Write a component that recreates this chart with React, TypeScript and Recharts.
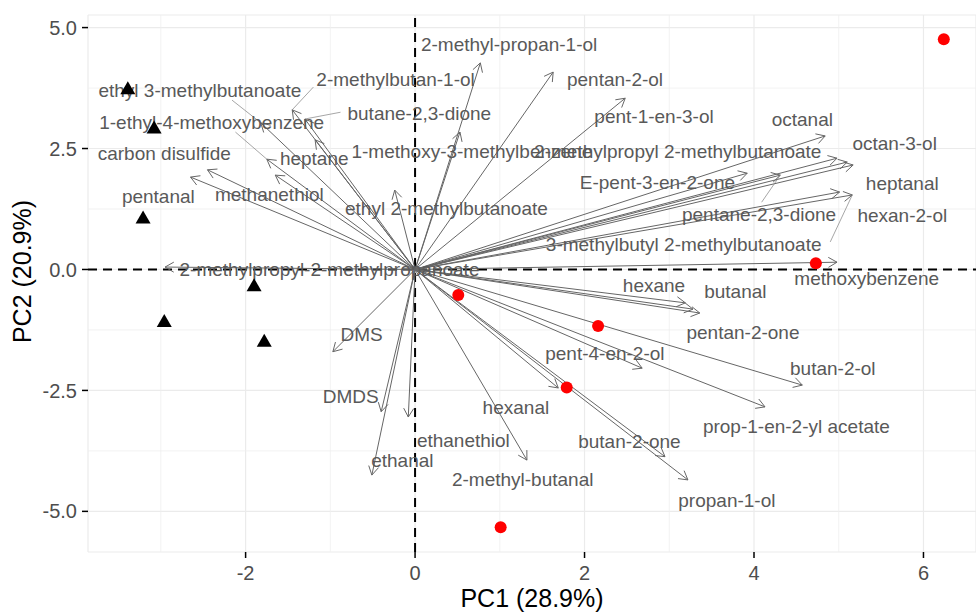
import React from "react";
import { ScatterChart, Scatter, XAxis, YAxis, CartesianGrid, ReferenceLine } from "recharts";

// variable loadings (arrow tips) and where their text labels sit
const variables = [
  "ethyl 3-methylbutanoate", "2-methylbutan-1-ol", "butane-2,3-dione", "1-ethyl-4-methoxybenzene",
  "carbon disulfide", "heptane", "pentanal", "methanethiol", "ethyl 2-methylbutanoate",
  "2-methylpropyl-2-methylpropanoate", "1-methoxy-3-methylbenzene", "2-methyl-propan-1-ol",
  "pentan-2-ol", "pent-1-en-3-ol", "2-methylpropyl 2-methylbutanoate", "octanal", "octan-3-ol",
  "E-pent-3-en-2-one", "heptanal", "pentane-2,3-dione", "hexan-2-ol",
  "3-methylbutyl 2-methylbutanoate", "methoxybenzene", "hexane", "butanal", "pentan-2-one",
  "pent-4-en-2-ol", "butan-2-ol", "prop-1-en-2-yl acetate", "hexanal", "butan-2-one",
  "propan-1-ol", "2-methyl-butanal", "ethanethiol", "ethanal", "DMS", "DMDS",
];
const loadPC1 = [
  -1.82, -1.45, -1.3, -1.75, -2.45, -1.18, -2.65, -1.65, -0.24, -2.95, 0.53, 0.77,
  1.63, 2.48, 4.98, 4.84, 5.1, 3.92, 5.17, 4.31, 5.01, 5.16, 4.98, 3.19, 3.36, 3.28,
  2.68, 4.57, 4.13, 1.69, 2.95, 3.22, 1.32, -0.08, -0.51, -0.97, -0.4,
];
const loadPC2 = [
  3.03, 3.3, 3.11, 2.28, 2.06, 2.68, 1.91, 1.95, 1.64, 0.05, 2.84, 4.27,
  4.08, 3.54, 2.3, 2.76, 2.22, 1.99, 2.16, 1.95, 1.6, 1.54, 0.15, -0.69, -0.9, -0.82,
  -2.04, -2.39, -2.84, -2.45, -3.87, -4.35, -3.94, -3.05, -4.25, -1.7, -2.94,
];
const labelPC1 = [
  -2.54, -0.23, 0.05, -2.4, -2.96, -1.19, -3.03, -1.72, 0.37, -1.01, 0.67, 1.11,
  2.36, 2.82, 3.1, 4.57, 5.66, 2.86, 5.75, 4.06, 5.75, 3.17, 5.33, 2.82, 3.78, 3.87,
  2.24, 4.93, 4.5, 1.19, 2.53, 3.68, 1.27, 0.57, -0.15, -0.63, -0.76,
];
const labelPC2 = [
  3.69, 3.92, 3.23, 3.03, 2.39, 2.3, 1.5, 1.56, 1.25, -0.01, 2.43, 4.64,
  3.92, 3.17, 2.43, 3.09, 2.61, 1.79, 1.77, 1.13, 1.11, 0.51, -0.18, -0.34, -0.46, -1.31,
  -1.73, -2.04, -3.25, -2.86, -3.56, -4.78, -4.35, -3.54, -3.94, -1.35, -2.63,
];

// repel leader lines: start near label, end at the arrow tip
const leaderNames = [
  "ethyl 3-methylbutanoate", "2-methylbutan-1-ol", "butane-2,3-dione",
  "1-ethyl-4-methoxybenzene", "pentane-2,3-dione", "3-methylbutyl 2-methylbutanoate",
];
const leaderPC1 = [-2.16, -1.2, -0.88, -2.12, 4.09, 4.9];
const leaderPC2 = [3.5, 3.77, 3.25, 2.84, 1.39, 0.57];

// sample scores
const groupAPC1 = [-3.39, -3.08, -3.21, -1.9, -2.96, -1.78];
const groupAPC2 = [3.71, 2.9, 1.04, -0.36, -1.1, -1.51];
const groupBPC1 = [6.24, 4.73, 0.51, 2.16, 1.79, 1.01];
const groupBPC2 = [4.76, 0.13, -0.53, -1.17, -2.44, -5.33];

const xTicks = [-2, 0, 2, 4, 6];
const yTicks = [-5, -2.5, 0, 2.5, 5];
const xMinor = [-3, -1, 1, 3, 5];
const yMinor = [-3.75, -1.25, 1.25, 3.75];

const FONT = "'Liberation Sans', Arial, sans-serif";
const ARROW = "#666666";

const labelData = variables.map((name, i) => ({ x: labelPC1[i], y: labelPC2[i], name }));
const groupA = groupAPC1.map((x, i) => ({ x, y: groupAPC2[i] }));
const groupB = groupBPC1.map((x, i) => ({ x, y: groupBPC2[i] }));

function Arrow(props: any) {
  const { x1, y1, x2, y2 } = props;
  const ang = Math.atan2(y2 - y1, x2 - x1);
  const len = 10;
  const spread = Math.PI / 6;
  const p1 = [x2 - len * Math.cos(ang - spread), y2 - len * Math.sin(ang - spread)];
  const p2 = [x2 - len * Math.cos(ang + spread), y2 - len * Math.sin(ang + spread)];
  return (
    <g>
      <line x1={x1} y1={y1} x2={x2} y2={y2} stroke={ARROW} strokeWidth={1} />
      <polyline
        points={`${p1[0]},${p1[1]} ${x2},${y2} ${p2[0]},${p2[1]}`}
        fill="none"
        stroke={ARROW}
        strokeWidth={1}
      />
    </g>
  );
}

function VarLabel(props: any) {
  return (
    <text
      x={props.cx}
      y={props.cy}
      textAnchor="middle"
      dominantBaseline="central"
      fontFamily={FONT}
      fontSize={19}
      fill="#595959"
    >
      {props.payload.name}
    </text>
  );
}

function Triangle(props: any) {
  const { cx, cy } = props;
  const s = 15;
  const h = (s * Math.sqrt(3)) / 2;
  return (
    <polygon
      points={`${cx},${cy - (2 * h) / 3} ${cx - s / 2},${cy + h / 3} ${cx + s / 2},${cy + h / 3}`}
      fill="#000"
    />
  );
}

function Dot(props: any) {
  return <circle cx={props.cx} cy={props.cy} r={6} fill="#ff0000" />;
}

function YTitle(props: any) {
  const vb = props.viewBox;
  const cx = vb.x + 22;
  const cy = vb.y + vb.height / 2 - 12;
  return (
    <text
      transform={`translate(${cx},${cy}) rotate(-90)`}
      textAnchor="middle"
      dominantBaseline="central"
      fontFamily={FONT}
      fontSize={25}
      fill="#000"
    >
      PC2 (20.9%)
    </text>
  );
}

export default function App() {
  const tickStyle = { fontFamily: FONT, fontSize: 20, fill: "#4d4d4d" };
  return (
    <div style={{ position: "absolute", left: 0, top: 0, background: "#fff" }}>
      <ScatterChart width={976} height={613} margin={{ top: 15, right: 0, bottom: 0, left: 0 }}>
        <CartesianGrid stroke="#ebebeb" strokeWidth={1.2} />
        {xMinor.map((v) => (
          <ReferenceLine key={"xm" + v} x={v} stroke="#efefef" strokeWidth={0.8} />
        ))}
        {yMinor.map((v) => (
          <ReferenceLine key={"ym" + v} y={v} stroke="#efefef" strokeWidth={0.8} />
        ))}
        <XAxis
          type="number"
          dataKey="x"
          domain={[-3.86, 6.62]}
          ticks={xTicks}
          allowDataOverflow
          axisLine={false}
          tickLine={{ stroke: "#000", strokeWidth: 1.5 }}
          tickSize={6}
          tickMargin={8}
          tick={tickStyle}
          height={61}
          label={{ value: "PC1 (28.9%)", position: "insideBottom", offset: 6, fill: "#000", fontSize: 25, fontFamily: FONT }}
        />
        <YAxis
          type="number"
          dataKey="y"
          domain={[-5.84, 5.26]}
          ticks={yTicks}
          allowDataOverflow
          axisLine={false}
          tickLine={{ stroke: "#000", strokeWidth: 1.5 }}
          tickSize={6}
          tickMargin={5}
          tick={tickStyle}
          tickFormatter={(v: number) => v.toFixed(1)}
          width={88}
          label={{ content: YTitle }}
        />
        <ReferenceLine x={0} stroke="#000" strokeWidth={2} strokeDasharray="9 6" />
        <ReferenceLine y={0} stroke="#000" strokeWidth={2} strokeDasharray="9 6" />
        {variables.map((name, i) => (
          <ReferenceLine
            key={name}
            segment={[{ x: 0, y: 0 }, { x: loadPC1[i], y: loadPC2[i] }]}
            ifOverflow="visible"
            shape={Arrow}
          />
        ))}
        {leaderNames.map((name, i) => {
          const k = variables.indexOf(name);
          return (
            <ReferenceLine
              key={"lead" + name}
              segment={[{ x: leaderPC1[i], y: leaderPC2[i] }, { x: loadPC1[k], y: loadPC2[k] }]}
              ifOverflow="visible"
              stroke="#808080"
              strokeWidth={0.7}
            />
          );
        })}
        <Scatter data={labelData} shape={VarLabel} isAnimationActive={false} />
        <Scatter data={groupA} shape={Triangle} isAnimationActive={false} />
        <Scatter data={groupB} shape={Dot} isAnimationActive={false} />
      </ScatterChart>
    </div>
  );
}
